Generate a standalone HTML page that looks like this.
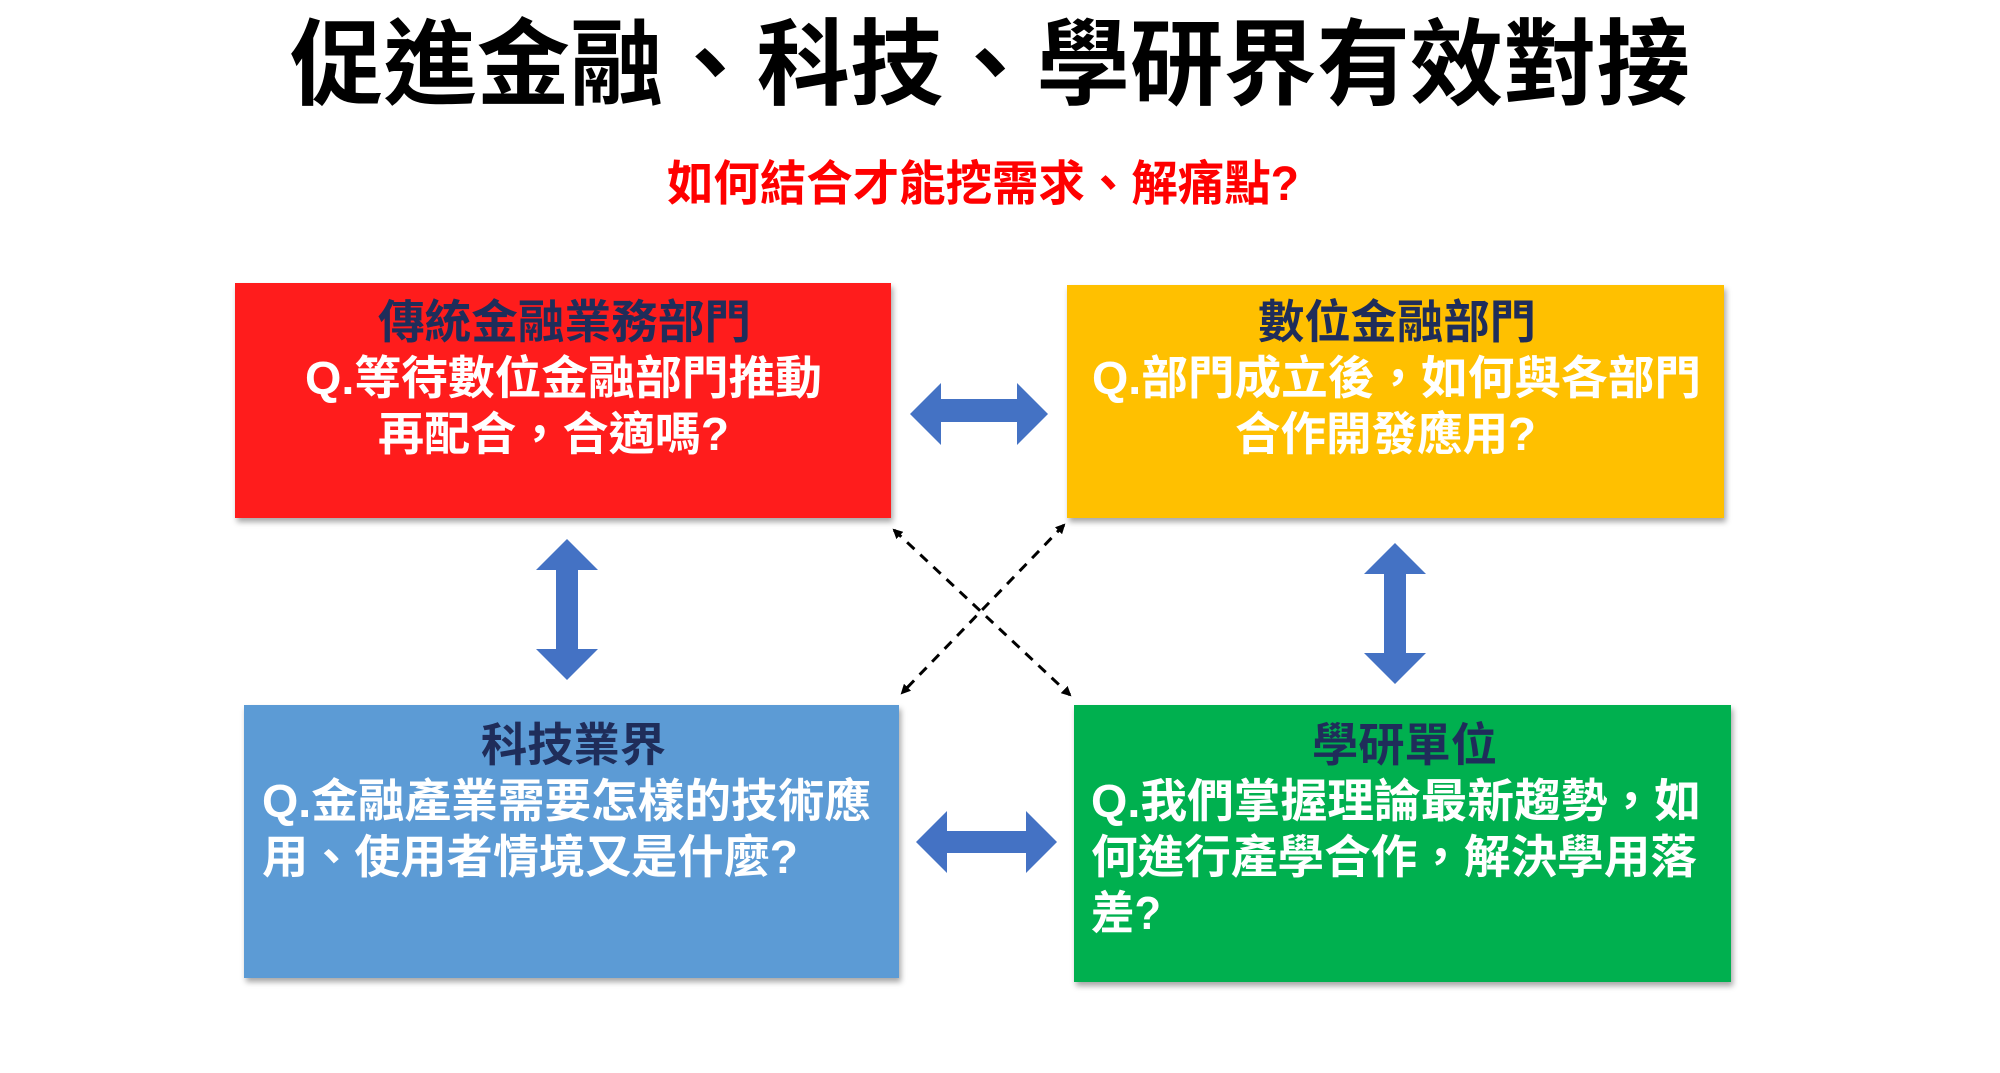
<!DOCTYPE html>
<html><head><meta charset="utf-8"><style>
html,body{margin:0;padding:0;background:#fff;width:2000px;height:1073px;overflow:hidden}
svg text{font-family:"Liberation Sans","Noto Sans CJK TC",sans-serif;font-weight:bold}
</style></head><body>
<svg width="2000" height="1073" viewBox="0 0 2000 1073" xmlns="http://www.w3.org/2000/svg">
<defs>
<filter id="sh" x="-5%" y="-5%" width="110%" height="115%"><feDropShadow dx="2" dy="4" stdDeviation="3" flood-color="#000" flood-opacity="0.35"/></filter>
<marker id="ah" markerWidth="10" markerHeight="10" refX="8" refY="5" orient="auto-start-reverse" markerUnits="userSpaceOnUse"><path d="M0,0 L10,5 L0,10 z" fill="#000"/></marker>
</defs>
<text x="290" y="97" font-size="94" textLength="1400" lengthAdjust="spacingAndGlyphs" fill="#000">促進金融、科技、學研界有效對接</text>
<text x="667" y="200" font-size="48" textLength="632" lengthAdjust="spacingAndGlyphs" fill="#ff0000">如何結合才能挖需求、解痛點?</text>

<rect x="235" y="283" width="656" height="235" fill="#ff1a1a" filter="url(#sh)"/>
<rect x="1067" y="285" width="657" height="233" fill="#ffc000" filter="url(#sh)"/>
<rect x="244" y="705" width="655" height="273" fill="#5b9bd5" filter="url(#sh)"/>
<rect x="1074" y="705" width="657" height="277" fill="#00b050" filter="url(#sh)"/>

<g font-size="46">
<text x="378" y="338" textLength="373" lengthAdjust="spacingAndGlyphs" fill="#1f2d5a">傳統金融業務部門</text>
<text x="305" y="394" textLength="517" lengthAdjust="spacingAndGlyphs" fill="#fff">Q.等待數位金融部門推動</text>
<text x="378" y="450" textLength="351" lengthAdjust="spacingAndGlyphs" fill="#fff">再配合，合適嗎?</text>
<text x="1258" y="338" textLength="278" lengthAdjust="spacingAndGlyphs" fill="#1f2d5a">數位金融部門</text>
<text x="1092" y="394" textLength="609" lengthAdjust="spacingAndGlyphs" fill="#fff">Q.部門成立後，如何與各部門</text>
<text x="1235" y="450" textLength="301" lengthAdjust="spacingAndGlyphs" fill="#fff">合作開發應用?</text>
<text x="481" y="761" textLength="185" lengthAdjust="spacingAndGlyphs" fill="#1f2d5a">科技業界</text>
<text x="1312" y="761" textLength="185" lengthAdjust="spacingAndGlyphs" fill="#1f2d5a">學研單位</text>
<text x="262" y="817" textLength="609" lengthAdjust="spacingAndGlyphs" fill="#fff">Q.金融產業需要怎樣的技術應</text>
<text x="262" y="873" textLength="536" lengthAdjust="spacingAndGlyphs" fill="#fff">用、使用者情境又是什麼?</text>
<text x="1091" y="817" textLength="610" lengthAdjust="spacingAndGlyphs" fill="#fff">Q.我們掌握理論最新趨勢，如</text>
<text x="1091" y="873" textLength="606" lengthAdjust="spacingAndGlyphs" fill="#fff">何進行產學合作，解決學用落</text>
<text x="1091" y="929" textLength="70" lengthAdjust="spacingAndGlyphs" fill="#fff">差?</text>
</g>

<g fill="#4472c4">
<polygon points="910,414 941,383 941,399 1017,399 1017,383 1048,414 1017,445 1017,422 941,422 941,445"/>
<polygon points="916,842 947,811 947,831 1026,831 1026,811 1057,842 1026,873 1026,853 947,853 947,873"/>
<polygon points="567,539 598,570 578,570 578,649 598,649 567,680 536,649 556,649 556,570 536,570"/>
<polygon points="1395,543 1426,574 1406,574 1406,653 1426,653 1395,684 1364,653 1384,653 1384,574 1364,574"/>
</g>

<g stroke="#000" stroke-width="3" stroke-dasharray="10,8" fill="none">
<line x1="894" y1="530" x2="1070" y2="695" marker-start="url(#ah)" marker-end="url(#ah)"/>
<line x1="1064" y1="525" x2="902" y2="693" marker-start="url(#ah)" marker-end="url(#ah)"/>
</g>
</svg>
</body></html>
